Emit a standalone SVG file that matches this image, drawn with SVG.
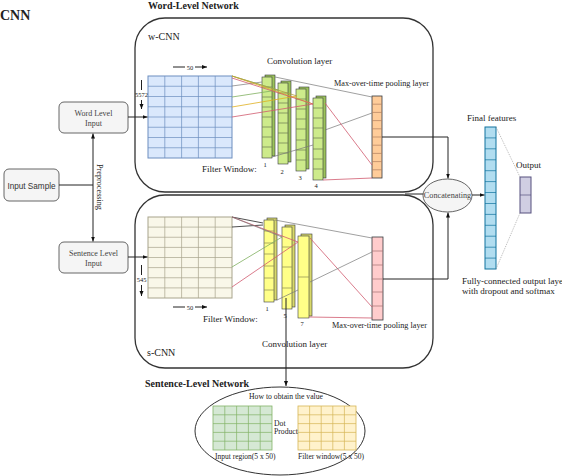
<svg xmlns="http://www.w3.org/2000/svg" width="562" height="476" viewBox="0 0 562 476">
<defs>
<marker id="arr" viewBox="0 0 10 10" refX="10" refY="5" markerWidth="5" markerHeight="5" markerUnits="userSpaceOnUse" orient="auto"><path d="M0,1 L10,5 L0,9 z" fill="#111"/></marker>
<style>
text{font-family:"Liberation Serif","Times New Roman",serif;fill:#222}
.t{font-weight:bold;font-size:10px}
.box{fill:#fff;stroke:#333;stroke-width:1.3}
.in{fill:#f5f5f5;stroke:#666;stroke-width:1}
.lbl{font-size:8px;fill:#444;text-anchor:middle}
.sm{font-size:6.5px;text-anchor:middle}
.c{stroke:#222;stroke-width:1;fill:none}
.cell{stroke-width:0.7;fill:none}
.g{stroke:#777;stroke-width:0.7;fill:none}
.r{stroke:#d05a6e;stroke-width:0.8;fill:none}
.y{stroke:#e0b020;stroke-width:0.8;fill:none}
.gr{stroke:#80b060;stroke-width:0.8;fill:none}
.ol{stroke:#b0a040;stroke-width:0.8;fill:none}
.k{stroke:#222;stroke-width:0.8;fill:none}
</style>
</defs>
<rect width="562" height="476" fill="#fff"/>
<text x="0" y="20" style="font-weight:bold;font-size:14px">CNN</text>

<g id="wcnn">
<rect class="box" x="135" y="18" width="298" height="174" rx="30"/>
<text class="t" x="148" y="9">Word-Level Network</text>
<text x="148" y="40" style="font-size:10px">w-CNN</text>
<text x="267" y="64" style="font-size:9px">Convolution layer</text>
<text x="334" y="86" style="font-size:8.2px">Max-over-time pooling layer</text>
<text x="202" y="172" style="font-size:9px">Filter Window:</text>
</g>
<g id="scnn">
<rect class="box" x="135" y="195" width="298" height="173" rx="30"/>
<text class="t" x="145" y="387">Sentence-Level Network</text>
<text x="147" y="356" style="font-size:10px">s-CNN</text>
<text x="262" y="347" style="font-size:9px">Convolution layer</text>
<text x="332" y="328" style="font-size:8.2px">Max-over-time pooling layer</text>
<text x="203" y="322" style="font-size:9px">Filter Window:</text>
</g>

<g id="input-sample">
<rect class="in" x="4" y="169" width="55" height="32" rx="5"/>
<text x="31.5" y="189" style="font-family:'Liberation Sans',Arial,sans-serif;font-size:8.2px;fill:#333;text-anchor:middle">Input Sample</text>
</g>
<g id="word-input">
<rect class="in" x="59" y="102" width="69" height="31" rx="5"/>
<text class="lbl" x="93.5" y="116">Word Level</text>
<text class="lbl" x="93.5" y="126">Input</text>
</g>
<g id="sentence-input">
<rect class="in" x="59" y="242" width="69" height="31" rx="5"/>
<text class="lbl" x="93.5" y="256">Sentence Level</text>
<text class="lbl" x="93.5" y="266">Input</text>
</g>
<text transform="translate(97,187) rotate(90)" style="font-size:8.2px;text-anchor:middle">Preprocessing</text>

<g id="word-grid">
<rect x="148" y="76" width="84" height="82" fill="#dae8fc" stroke="#6c8ebf" stroke-width="1"/>
<path class="cell" stroke="#6c8ebf" d="M164.8,76V158M181.6,76V158M198.4,76V158M215.2,76V158M148,86.25H232M148,96.5H232M148,106.75H232M148,117H232M148,127.25H232M148,137.5H232M148,147.75H232"/>
<path class="c" stroke-width="0.7" marker-end="url(#arr)" d="M185,67H173M195,67H207"/>
<text class="sm" x="190" y="69.5">50</text>
<path class="c" stroke-width="0.7" marker-end="url(#arr)" d="M141.5,90V80M141.5,100V109"/>
<text class="sm" x="141.5" y="97">5572</text>
</g>

<g id="sentence-grid">
<rect x="148" y="217" width="84" height="81" fill="#f9f7e9" stroke="#a8a48c" stroke-width="1"/>
<path class="cell" stroke="#a8a48c" d="M164.8,217V298M181.6,217V298M198.4,217V298M215.2,217V298M148,227.1H232M148,237.25H232M148,247.4H232M148,257.5H232M148,267.6H232M148,277.75H232M148,287.9H232"/>
<path class="c" stroke-width="0.7" marker-end="url(#arr)" d="M185,307H173M195,307H207"/>
<text class="sm" x="190" y="309.5">50</text>
<path class="c" stroke-width="0.7" marker-end="url(#arr)" d="M141.5,275V265M141.5,285V296"/>
<text class="sm" x="141.5" y="282">545</text>
</g>

<g id="word-conv">
<rect x="265" y="75" width="10" height="81" fill="#9cc35a" stroke="#36393d" stroke-width="0.6"/>
<rect x="262" y="77" width="10" height="81" fill="#cdeb8b" stroke="#36393d" stroke-width="0.6"/>
<path class="cell" stroke="#6a7a50" d="M262,87H272M262,97H272M262,107H272M262,117H272M262,127H272M262,137H272M262,147H272"/>
<rect x="281" y="81" width="10" height="81" fill="#9cc35a" stroke="#36393d" stroke-width="0.6"/>
<rect x="278" y="83" width="10" height="81" fill="#cdeb8b" stroke="#36393d" stroke-width="0.6"/>
<path class="cell" stroke="#6a7a50" d="M278,93H288M278,103H288M278,113H288M278,123H288M278,133H288M278,143H288M278,153H288"/>
<rect x="299" y="87" width="10" height="82" fill="#9cc35a" stroke="#36393d" stroke-width="0.6"/>
<rect x="296" y="89" width="10" height="82" fill="#cdeb8b" stroke="#36393d" stroke-width="0.6"/>
<path class="cell" stroke="#6a7a50" d="M296,99H306M296,109H306M296,119H306M296,129H306M296,140H306M296,150H306M296,160H306"/>
<rect x="316" y="96" width="10" height="82" fill="#9cc35a" stroke="#36393d" stroke-width="0.6"/>
<rect x="313" y="98" width="10" height="82" fill="#cdeb8b" stroke="#36393d" stroke-width="0.6"/>
<path class="cell" stroke="#6a7a50" d="M313,108H323M313,118H323M313,128H323M313,138H323M313,149H323M313,159H323M313,169H323"/>
<text class="sm" x="265" y="167">1</text>
<text class="sm" x="282" y="174">2</text>
<text class="sm" x="300" y="180">3</text>
<text class="sm" x="316" y="188">4</text>
</g>
<g id="word-pool">
<rect x="372" y="96" width="10" height="82" fill="#ffcc99" stroke="#36393d" stroke-width="0.8"/>
<path class="cell" stroke="#b08060" d="M372,104.2H382M372,112.4H382M372,120.6H382M372,128.8H382M372,137H382M372,145.2H382M372,153.4H382M372,161.6H382M372,169.8H382"/>
</g>

<g id="sentence-conv">
<rect x="267" y="218" width="10" height="82" fill="#d8d86a" stroke="#36393d" stroke-width="0.6"/>
<rect x="264" y="220" width="10" height="82" fill="#ffff88" stroke="#36393d" stroke-width="0.6"/>
<path class="cell" stroke="#8a8a50" d="M264,231H274M264,243H274M264,254H274M264,266H274M264,278H274M264,290H274"/>
<rect x="285" y="225" width="10" height="82" fill="#d8d86a" stroke="#36393d" stroke-width="0.6"/>
<rect x="282" y="227" width="10" height="82" fill="#ffff88" stroke="#36393d" stroke-width="0.6"/>
<path class="cell" stroke="#8a8a50" d="M282,247H292M282,267H292M282,288H292"/>
<rect x="301" y="234" width="11" height="82" fill="#d8d86a" stroke="#36393d" stroke-width="0.6"/>
<rect x="298" y="236" width="11" height="82" fill="#ffff88" stroke="#36393d" stroke-width="0.6"/>
<path class="cell" stroke="#8a8a50" d="M298,277H309"/>
<text class="sm" x="267" y="311">1</text>
<text class="sm" x="285" y="318">5</text>
<text class="sm" x="302" y="326">7</text>
</g>
<g id="sentence-pool">
<rect x="372" y="237" width="11" height="83" fill="#ffcccc" stroke="#36393d" stroke-width="0.8"/>
<path class="cell" stroke="#a07070" d="M372,251H383M372,265H383M372,279H383M372,292H383M372,306H383"/>
</g>

<g id="concatenating">
<ellipse cx="447.5" cy="195.5" rx="24.5" ry="16.5" fill="#f5f5f5" stroke="#666" stroke-width="1"/>
<text x="447.5" y="198" style="font-size:8.2px;fill:#444;text-anchor:middle">Concatenating</text>
</g>
<g id="final-features">
<rect x="485" y="127" width="11" height="142" fill="#b1ddf0" stroke="#10739e" stroke-width="1"/>
<path class="cell" stroke="#10739e" stroke-width="0.5" d="M485,137.9H496M485,148.8H496M485,159.8H496M485,170.7H496M485,181.6H496M485,192.5H496M485,203.5H496M485,214.4H496M485,225.3H496M485,236.2H496M485,247.2H496M485,258.1H496"/>
<text x="467" y="121" style="font-size:9px">Final features</text>
<text x="462" y="284" style="font-size:9px">Fully-connected output laye</text>
<text x="462" y="294" style="font-size:9px">with dropout and softmax</text>
</g>
<g id="output">
<rect x="520" y="177" width="11" height="36" fill="#d0cee2" stroke="#56517e" stroke-width="1"/>
<path class="cell" stroke="#56517e" d="M520,195H531"/>
<text x="516" y="168" style="font-size:9px">Output</text>
</g>

<g id="dot-product">
<ellipse cx="280" cy="431" rx="85" ry="44" fill="#fff" stroke="#333" stroke-width="1"/>
<text x="286" y="399" style="font-size:7.7px;text-anchor:middle">How to obtain the value</text>
<rect x="213" y="406" width="59" height="44" fill="#d5e8d4" stroke="#82b366" stroke-width="0.8"/>
<path class="cell" stroke="#82b366" d="M224.8,406V450M236.6,406V450M248.4,406V450M260.2,406V450M213,414.8H272M213,423.6H272M213,432.4H272M213,441.2H272"/>
<rect x="298" y="406" width="58" height="44" fill="#fff2cc" stroke="#d6b656" stroke-width="0.8"/>
<path class="cell" stroke="#d6b656" d="M309.6,406V450M321.2,406V450M332.8,406V450M344.4,406V450M298,414.8H356M298,423.6H356M298,432.4H356M298,441.2H356"/>
<text x="274" y="426" style="font-size:7.7px">Dot</text>
<text x="274" y="434" style="font-size:7.7px">Product</text>
<text x="215" y="459" style="font-size:7.5px">Input region(5 x 50)</text>
<text x="298" y="459" style="font-size:7.5px">Filter window(5 x 50)</text>
</g>

<g id="connectors">
<path class="c" d="M59,185H93"/>
<path class="c" marker-end="url(#arr)" d="M93,185V133.5"/>
<path class="c" marker-end="url(#arr)" d="M93,185V241.5"/>
<path class="c" marker-end="url(#arr)" d="M128,117H147.5"/>
<path class="c" marker-end="url(#arr)" d="M128,257H147.5"/>
<path class="c" d="M382,137H448V178.5" marker-end="url(#arr)"/>
<path class="c" d="M383,279H448V212.5" marker-end="url(#arr)"/>
<path class="c" d="M405,194H423"/>
<path class="c" marker-end="url(#arr)" d="M472,195H484.5"/>
<path d="M496,127L520,177M496,269L520,213" stroke="#888" stroke-width="0.6" stroke-dasharray="1,1" fill="none"/>
<path class="c" marker-end="url(#arr)" d="M286,298V386"/>
<!-- word filters -->
<path class="g" d="M232,86L262,82M275,77L372,97M325,130L372,113M272,157L313,145"/>
<path class="gr" d="M232,76L278,90M232,97L278,90"/>
<path class="y" d="M232,76L313,104M232,107L297,96"/>
<path class="ol" d="M232,76L297,96"/>
<path class="r" d="M232,117L313,104M232,78L313,104M325,103L372,165M323,180L372,178"/>
<!-- sentence filters -->
<path class="k" d="M232,217L263,223M232,227L263,225"/>
<path class="r" d="M232,217L298,242M232,287L298,242M310,238L372,307M309,317L372,318"/>
<path class="gr" d="M232,267L282,237"/>
<path class="g" d="M232,217L282,237M275,220L372,238M310,282L372,252M277,300L298,290"/>
</g>
</svg>
